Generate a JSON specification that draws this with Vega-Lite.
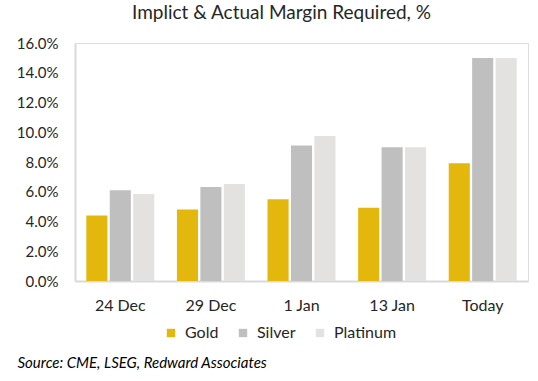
{
  "$schema": "https://vega.github.io/schema/vega-lite/v6.json",
  "width": 453,
  "height": 238,
  "autosize": {"type": "none"},
  "padding": {"left": 75, "top": 43, "right": 10, "bottom": 100},
  "background": "white",
  "title": {
    "text": "Implict & Actual Margin Required, %",
    "anchor": "middle",
    "frame": "group",
    "dx": -20,
    "offset": 13,
    "font": "Lato",
    "fontSize": 19,
    "fontWeight": "normal",
    "color": "#262626"
  },
  "data": {
    "values": [
      {"date": "24 Dec", "metal": "Gold", "value": 0.0441},
      {"date": "24 Dec", "metal": "Silver", "value": 0.061},
      {"date": "24 Dec", "metal": "Platinum", "value": 0.0585},
      {"date": "29 Dec", "metal": "Gold", "value": 0.048},
      {"date": "29 Dec", "metal": "Silver", "value": 0.0632},
      {"date": "29 Dec", "metal": "Platinum", "value": 0.0652},
      {"date": "1 Jan", "metal": "Gold", "value": 0.0549},
      {"date": "1 Jan", "metal": "Silver", "value": 0.0911},
      {"date": "1 Jan", "metal": "Platinum", "value": 0.0974},
      {"date": "13 Jan", "metal": "Gold", "value": 0.0493},
      {"date": "13 Jan", "metal": "Silver", "value": 0.09},
      {"date": "13 Jan", "metal": "Platinum", "value": 0.09},
      {"date": "Today", "metal": "Gold", "value": 0.0792},
      {"date": "Today", "metal": "Silver", "value": 0.15},
      {"date": "Today", "metal": "Platinum", "value": 0.15}
    ]
  },
  "mark": {"type": "bar"},
  "encoding": {
    "x": {
      "field": "date",
      "type": "nominal",
      "sort": ["24 Dec", "29 Dec", "1 Jan", "13 Jan", "Today"],
      "scale": {"paddingInner": 0.25, "paddingOuter": 0.125},
      "axis": {
        "title": "Source: CME, LSEG, Redward Associates",
        "titleFont": "Lato",
        "titleFontStyle": "italic",
        "titleFontWeight": "normal",
        "titleFontSize": 15,
        "titleColor": "#000000",
        "titleAnchor": "start",
        "titleAlign": "left",
        "titleBaseline": "middle",
        "titleX": -58,
        "titleY": 81,
        "labelAngle": 0,
        "labelFont": "Lato",
        "labelFontSize": 16,
        "labelColor": "#262626",
        "labelPadding": 16,
        "ticks": false,
        "domainColor": "#D9D9D9",
        "domainWidth": 2
      }
    },
    "xOffset": {
      "field": "metal",
      "type": "nominal",
      "sort": ["Gold", "Silver", "Platinum"],
      "scale": {"paddingInner": 0.1, "paddingOuter": 0}
    },
    "y": {
      "field": "value",
      "type": "quantitative",
      "scale": {"domain": [0, 0.16], "nice": false},
      "axis": {
        "title": null,
        "format": ".1%",
        "values": [0, 0.02, 0.04, 0.06, 0.08, 0.1, 0.12, 0.14, 0.16],
        "grid": false,
        "ticks": false,
        "labelFont": "Lato",
        "labelFontSize": 15,
        "labelColor": "#262626",
        "labelPadding": 17,
        "domainColor": "#D9D9D9",
        "domainWidth": 2
      }
    },
    "color": {
      "field": "metal",
      "type": "nominal",
      "sort": ["Gold", "Silver", "Platinum"],
      "scale": {
        "domain": ["Gold", "Silver", "Platinum"],
        "range": ["#E4B70D", "#BFBFBF", "#E3E2E0"]
      },
      "legend": {
        "title": null,
        "orient": "none",
        "direction": "horizontal",
        "legendX": 88,
        "legendY": 282,
        "symbolType": "square",
        "symbolSize": 70,
        "symbolStrokeWidth": 0,
        "labelFont": "Lato",
        "labelFontSize": 16,
        "labelColor": "#262626",
        "labelOffset": 6,
        "columnPadding": 16
      }
    }
  }
}
